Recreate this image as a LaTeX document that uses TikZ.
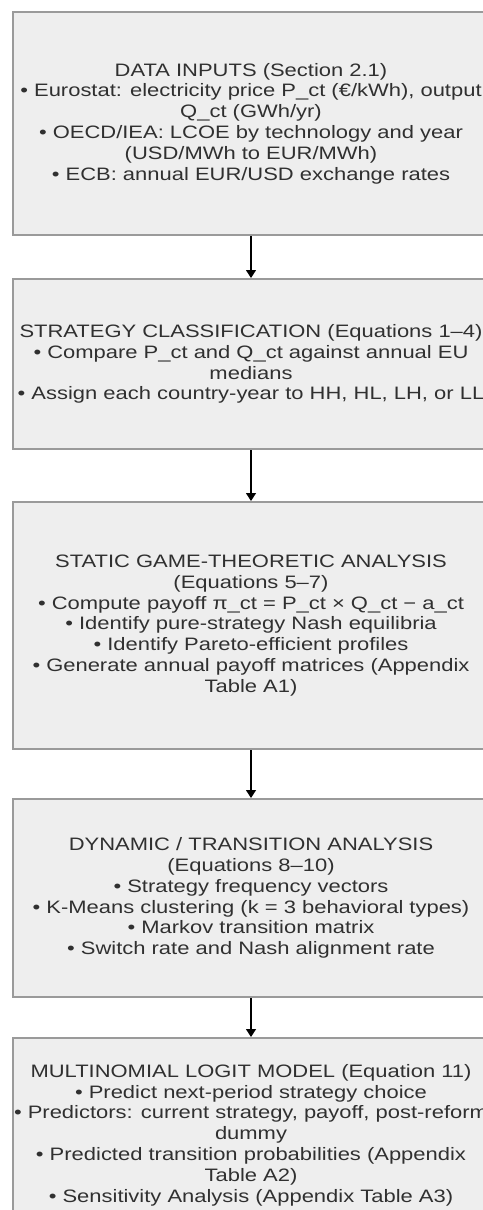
\documentclass[tikz,border=0pt]{standalone}
\usepackage{fontspec}
\usepackage{tikz}
\usetikzlibrary{arrows.meta}
\setmainfont[FakeStretch=1.22]{Liberation Sans}
\definecolor{StageFill}{HTML}{EEEEEE}
\definecolor{StageLine}{HTML}{9A9A9A}
\definecolor{StageText}{HTML}{303030}

\begin{document}
\begin{tikzpicture}[x=1pt, y=1pt,
    stage/.style={draw=StageLine, line width=2pt, fill=StageFill, text=StageText,
        minimum width=476pt, inner sep=0pt, align=center,
        font=\fontsize{18}{20.8}\selectfont},
    flow/.style={-{Triangle[width=10pt,length=8pt]}, line width=1.2pt, black}]
    \useasboundingbox (0,0) rectangle (482,-1210);
    \node[stage, minimum height=223pt] (inputs) at (251,-123.5) {DATA INPUTS (Section 2.1)\\
        • Eurostat: electricity price P\_ct (€/kWh), output\\
        Q\_ct (GWh/yr)\\
        • OECD/IEA: LCOE by technology and year\\
        (USD/MWh to EUR/MWh)\\
        • ECB: annual EUR/USD exchange rates};
    \node[stage, minimum height=170pt] (classify) at (251,-364) {STRATEGY CLASSIFICATION (Equations 1–4)\\
        • Compare P\_ct and Q\_ct against annual EU\\
        medians\\
        • Assign each country-year to HH, HL, LH, or LL};
    \node[stage, minimum height=247pt] (static) at (251,-625.5) {STATIC GAME-THEORETIC ANALYSIS\\
        (Equations 5–7)\\
        • Compute payoff π\_ct = P\_ct × Q\_ct − a\_ct\\
        • Identify pure-strategy Nash equilibria\\
        • Identify Pareto-efficient profiles\\
        • Generate annual payoff matrices (Appendix\\
        Table A1)};
    \node[stage, minimum height=198pt] (dynamic) at (251,-898) {DYNAMIC / TRANSITION ANALYSIS\\
        (Equations 8–10)\\
        • Strategy frequency vectors\\
        • K-Means clustering (k = 3 behavioral types)\\
        • Markov transition matrix\\
        • Switch rate and Nash alignment rate};
    \node[stage, minimum height=194pt] (logit) at (251,-1135) {MULTINOMIAL LOGIT MODEL (Equation 11)\\
        • Predict next-period strategy choice\\
        • Predictors: current strategy, payoff, post-reform\\
        dummy\\
        • Predicted transition probabilities (Appendix\\
        Table A2)\\
        • Sensitivity Analysis (Appendix Table A3)};
    \draw[flow] (inputs) -- (classify);
    \draw[flow] (classify) -- (static);
    \draw[flow] (static) -- (dynamic);
    \draw[flow] (dynamic) -- (logit);
\end{tikzpicture}
\end{document}
